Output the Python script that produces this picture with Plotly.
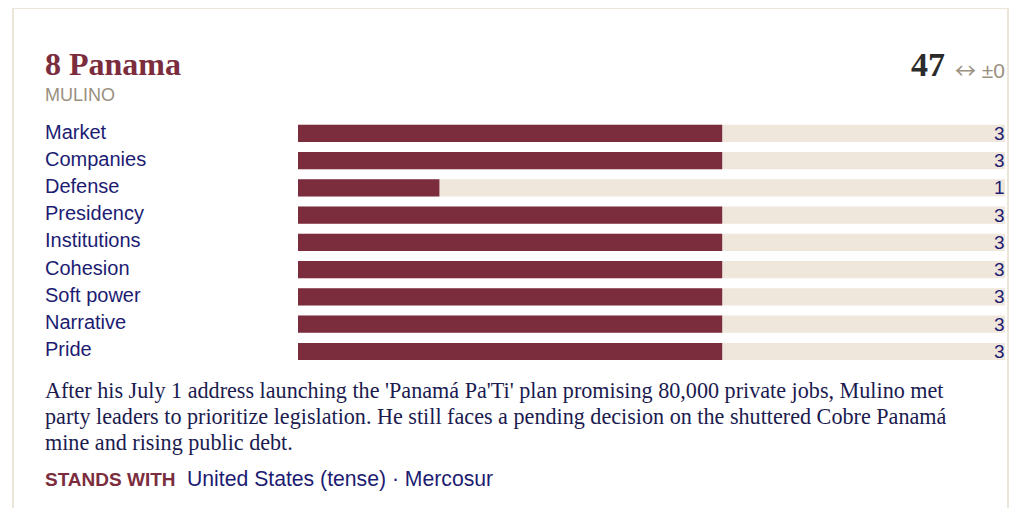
import plotly.graph_objects as go

# ---- data ----
categories = ["Market", "Companies", "Defense", "Presidency", "Institutions",
              "Cohesion", "Soft power", "Narrative", "Pride"]
values = [3, 3, 1, 3, 3, 3, 3, 3, 3]
max_score = 5
rank = 8
country = "Panama"
leader = "MULINO"
score = 47
change_arrow = "↔"
change_value = "±0"
summary_lines = [
    "After his July 1 address launching the 'Panamá Pa'Ti' plan promising 80,000 private jobs, Mulino met",
    "party leaders to prioritize legislation. He still faces a pending decision on the shuttered Cobre Panamá",
    "mine and rising public debt.",
]
stands_with = ["United States (tense)", "Mercosur"]

# ---- style ----
W, H = 1005, 500
MAROON = "#7b2d3e"
TRACK = "#efe6dc"
NAVY = "#1c1c72"
TEXT = "#1b1b4f"
GREY = "#9a9080"
BORDER = "#ece5d9"
SANS = "Liberation Sans, Arial, sans-serif"
SERIF = "Liberation Serif, Times New Roman, serif"

def px(x):
    return x / W

def py(y):
    return 1 - y / H

fig = go.Figure()
fig.add_trace(go.Bar(y=categories, x=[max_score] * len(categories), orientation="h",
                     marker=dict(color=TRACK, line=dict(width=0)), hoverinfo="skip"))
fig.add_trace(go.Bar(y=categories, x=values, orientation="h",
                     marker=dict(color=MAROON, line=dict(width=0)), hoverinfo="skip"))

ann = []
for i, (c, v) in enumerate(zip(categories, values)):
    ann.append(dict(x=px(35), xref="paper", y=py(124 + i * 27.1), yref="paper", text=c,
                    showarrow=False, xanchor="left", yanchor="middle",
                    font=dict(family=SANS, size=20, color=NAVY)))
    ann.append(dict(x=px(999), xref="paper", y=c, yref="y", text=str(v), showarrow=False,
                    xanchor="right", yanchor="middle", font=dict(family=SANS, size=19, color=NAVY)))

ann.append(dict(x=px(35), y=py(56), xref="paper", yref="paper", text=f"<b>{rank} {country}</b>",
                showarrow=False, xanchor="left", yanchor="middle",
                font=dict(family=SERIF, size=32, color=MAROON)))
ann.append(dict(x=px(35), y=py(87), xref="paper", yref="paper", text=leader,
                showarrow=False, xanchor="left", yanchor="middle",
                font=dict(family=SANS, size=18, color=GREY)))
ann.append(dict(x=px(939), y=py(57), xref="paper", yref="paper", text=f"<b>{score}</b>",
                showarrow=False, xanchor="right", yanchor="middle",
                font=dict(family=SERIF, size=34, color="#2b2b2b")))
ann.append(dict(x=px(999), y=py(61), xref="paper", yref="paper",
                text=f"<span style='font-family:Noto Sans CJK SC'>{change_arrow}</span> {change_value}",
                showarrow=False, xanchor="right", yanchor="middle",
                font=dict(family=SANS, size=21, color=GREY)))
for i, line in enumerate(summary_lines):
    ann.append(dict(x=px(35), y=py(382 + i * 26), xref="paper", yref="paper", text=line,
                    showarrow=False, xanchor="left", yanchor="middle", align="left",
                    font=dict(family=SERIF, size=22.15, color=TEXT)))
ann.append(dict(x=px(35), y=py(471), xref="paper", yref="paper", text="<b>STANDS WITH</b>",
                showarrow=False, xanchor="left", yanchor="middle",
                font=dict(family=SANS, size=19, color=MAROON)))
ann.append(dict(x=px(177), y=py(471), xref="paper", yref="paper", text=" · ".join(stands_with),
                showarrow=False, xanchor="left", yanchor="middle",
                font=dict(family=SANS, size=21.2, color=NAVY)))

fig.update_layout(
    width=W, height=H,
    margin=dict(l=0, r=0, t=0, b=0),
    paper_bgcolor="white", plot_bgcolor="white",
    barmode="overlay", bargap=0.37, showlegend=False,
    xaxis=dict(domain=[px(290), px(997)], range=[0, max_score], visible=False, fixedrange=True),
    yaxis=dict(domain=[py(357.1), py(111.7)], autorange="reversed", visible=False, fixedrange=True),
    annotations=ann,
    shapes=[dict(type="rect", xref="paper", yref="paper", x0=px(5), x1=px(1000), y0=-0.1, y1=py(0),
                 line=dict(color=BORDER, width=2), fillcolor="rgba(0,0,0,0)", layer="below")],
)

fig.write_html("out.html", config=dict(displayModeBar=False))
